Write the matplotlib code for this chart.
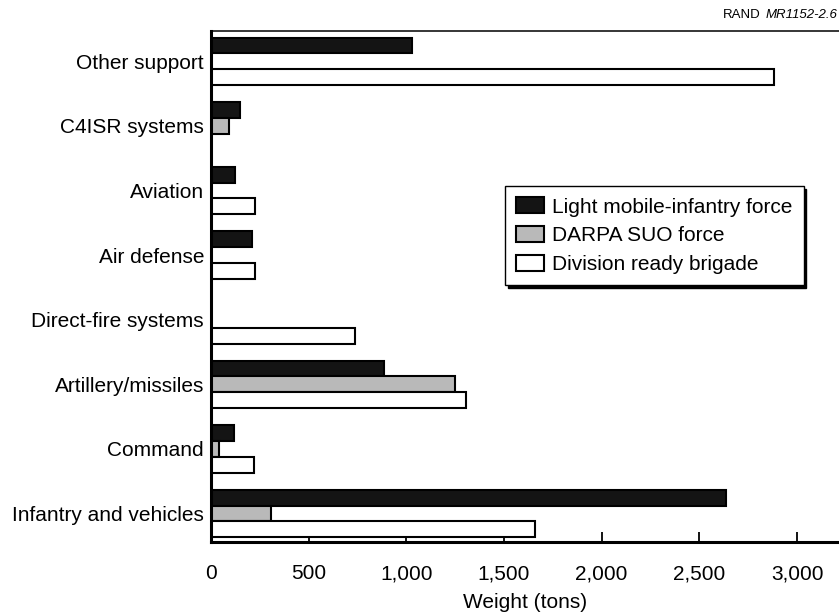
import matplotlib
matplotlib.use("Agg")
import matplotlib.pyplot as plt
import numpy as np

plt.rcParams["font.family"] = ["Liberation Sans", "DejaVu Sans"]

# Weight by functional area (tons)
categories = ["Infantry and vehicles", "Command", "Artillery/missiles",
              "Direct-fire systems", "Air defense", "Aviation",
              "C4ISR systems", "Other support"]
light_mobile = [2635, 120, 885, 0, 210, 125, 150, 1030]
darpa_suo = [305, 40, 1250, 0, 0, 0, 90, 0]
division_ready = [1660, 220, 1305, 735, 225, 225, 0, 2880]
series_names = ["Light mobile-infantry force", "DARPA SUO force",
                "Division ready brigade"]
x_ticks = [0, 500, 1000, 1500, 2000, 2500, 3000]

W, H = 839, 615
fig = plt.figure(figsize=(W / 100, H / 100), dpi=100)
ax_left, ax_right, ax_top, ax_bottom = 211, 839, 31, 542
ax = fig.add_axes([ax_left / W, 1 - ax_bottom / H,
                   (ax_right - ax_left) / W, (ax_bottom - ax_top) / H])

y = np.arange(len(categories))
h = 0.245
colors = ["#141414", "#b9b9b9", "white"]
series = [light_mobile, darpa_suo, division_ready]
offsets = [h, 0, -h]
handles = []
for vals, off, col, name in zip(series, offsets, colors, series_names):
    vals = np.asarray(vals, dtype=float)
    keep = vals > 0
    bars = ax.barh(y[keep] + off, vals[keep], height=h, color=col,
                   edgecolor="black", linewidth=1.5, label=name, zorder=2)
    handles.append(bars)

ax.set_xlim(0, (ax_right - ax_left) / (586 / 3000))
ax.set_ylim(-0.44, 7.47)

ax.set_yticks(y)
ax.set_yticklabels(categories, fontsize=15)
ax.tick_params(axis="y", length=0, pad=5)

ax.set_xticks(x_ticks)
ax.set_xticklabels([f"{v:,}" for v in x_ticks], fontsize=15)
ax.tick_params(axis="x", direction="in", length=7, width=1.3, pad=16)
ax.set_xlabel("Weight (tons)", fontsize=15, labelpad=7)

ax.spines["right"].set_visible(False)
ax.spines["left"].set_linewidth(2.2)
ax.spines["bottom"].set_linewidth(2.2)
ax.spines["top"].set_linewidth(1.1)

leg = ax.legend(handles=handles, labels=series_names,
                loc="upper left", bbox_to_anchor=(505 / W, 1 - 186 / H),
                bbox_transform=fig.transFigure, borderaxespad=0,
                fontsize=15, frameon=True, fancybox=False,
                shadow={"color": "black", "alpha": 1.0},
                handlelength=1.3, handleheight=0.8, handletextpad=0.4,
                labelspacing=0.45, borderpad=0.55)
leg.get_frame().set_edgecolor("black")
leg.get_frame().set_linewidth(1.0)
leg.get_frame().set_alpha(1.0)

# Figure number in the top right corner: "RAND" upright, report number italic
num = fig.text(837 / W, 1 - 15 / H, "MR1152-2.6", fontsize=9.5,
               ha="right", va="center", style="italic")
fig.canvas.draw()
bb = num.get_window_extent(renderer=fig.canvas.get_renderer())
fig.text((bb.x0 - 4) / W, 1 - 15 / H, "RAND", fontsize=9.5,
         ha="right", va="center")

fig.savefig("out.png", dpi=100)
